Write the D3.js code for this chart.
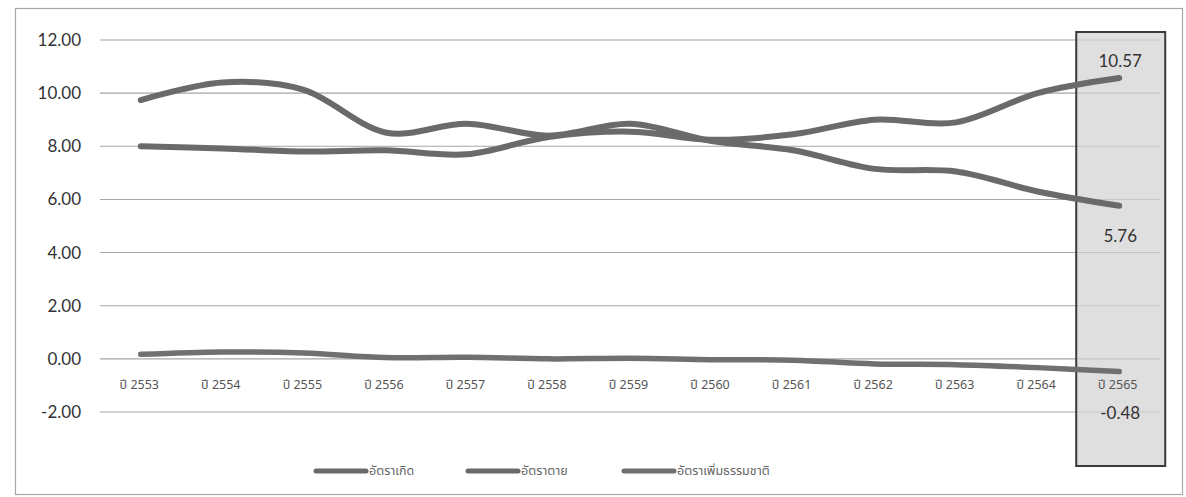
<!DOCTYPE html>
<html>
<head>
<meta charset="utf-8">
<script src="https://cdn.jsdelivr.net/npm/d3@7"></script>
<style>
  html, body { margin: 0; padding: 0; background: #fff; }
  svg { display: block; }
</style>
</head>
<body>
<svg id="chart" width="1186" height="497"></svg>
<script>
const categories = ["ปี 2553","ปี 2554","ปี 2555","ปี 2556","ปี 2557","ปี 2558","ปี 2559","ปี 2560","ปี 2561","ปี 2562","ปี 2563","ปี 2564","ปี 2565"];
const birthRate   = [9.74, 10.40, 10.12, 8.52, 8.85, 8.40, 8.85, 8.20, 7.85, 7.15, 7.05, 6.30, 5.76];
const deathRate   = [8.00, 7.92, 7.80, 7.85, 7.70, 8.35, 8.55, 8.25, 8.45, 9.00, 8.90, 10.00, 10.57];
const naturalRate = [0.17, 0.26, 0.22, 0.05, 0.06, 0.00, 0.02, -0.03, -0.05, -0.19, -0.22, -0.33, -0.48];
const seriesNames = ["อัตราเกิด", "อัตราตาย", "อัตราเพิ่มธรรมชาติ"];
const yTicks = [12, 10, 8, 6, 4, 2, 0, -2];

const svg = d3.select("#chart");
const thaiFont = "'Noto Sans Thai', 'Tahoma', 'Noto Sans', 'DejaVu Sans', sans-serif";
const numFont = "Lato, 'Open Sans', sans-serif";
const fmt = d3.formatLocale({ decimal: ".", thousands: ",", grouping: [3], currency: ["", ""], minus: "-" }).format(".2f");

// outer border
svg.append("rect").attr("x", 15.5).attr("y", 8.5).attr("width", 1167).attr("height", 486)
  .attr("fill", "#fff").attr("stroke", "#a8a8a8").attr("stroke-width", 1.2);

const x = d3.scalePoint().domain(categories).range([100, 1160]).padding(0.5);
const y = d3.scaleLinear().domain([-2, 12]).range([412, 40]);

// gridlines
svg.append("g").selectAll("line").data(yTicks).join("line")
  .attr("x1", 100).attr("x2", 1160)
  .attr("y1", d => y(d)).attr("y2", d => y(d))
  .attr("stroke", "#a6a6a6").attr("stroke-width", 1.1);

// y labels via axis
const yAxis = d3.axisLeft(y).tickValues(yTicks).tickFormat(fmt).tickSize(0).tickPadding(0);
const gy = svg.append("g").attr("transform", "translate(81,0)").call(yAxis);
gy.select(".domain").remove();
gy.selectAll("text").attr("font-family", numFont).attr("font-size", 17).attr("fill", "#333");

// highlight box for last category
const last = categories[categories.length - 1];
svg.append("rect")
  .attr("x", x(last) - 43).attr("y", 32).attr("width", 89).attr("height", 434)
  .attr("fill", "#d2d2d2").attr("fill-opacity", 0.72)
  .attr("stroke", "#3a3a3a").attr("stroke-width", 2);

// x labels via axis
const xAxis = d3.axisBottom(x).tickSize(0).tickPadding(0);
const gx = svg.append("g").attr("transform", "translate(-2,380)").call(xAxis);
gx.select(".domain").remove();
gx.selectAll("text").attr("font-family", thaiFont).attr("font-size", 12.5).attr("fill", "#555");

// lines
const line = d3.line()
  .x((d, i) => x(categories[i]))
  .y(d => y(d))
  .curve(d3.curveCatmullRom.alpha(0));

const series = [
  { name: seriesNames[0], values: birthRate, color: "#6a6a6a", width: 6 },
  { name: seriesNames[1], values: deathRate, color: "#6a6a6a", width: 6 },
  { name: seriesNames[2], values: naturalRate, color: "#707070", width: 5.5 }
];

svg.append("g").selectAll("path").data(series).join("path")
  .attr("d", d => line(d.values))
  .attr("fill", "none")
  .attr("stroke", d => d.color)
  .attr("stroke-width", d => d.width)
  .attr("stroke-linecap", "round");

// data labels for last point
const lastIdx = categories.length - 1;
const labels = [
  { v: deathRate[lastIdx], dy: -11 },
  { v: birthRate[lastIdx], dy: 36 },
  { v: naturalRate[lastIdx], dy: 47 }
];
svg.append("g").selectAll("text").data(labels).join("text")
  .attr("x", x(last) + 1)
  .attr("y", d => y(d.v) + d.dy)
  .attr("text-anchor", "middle")
  .attr("font-family", numFont).attr("font-size", 17).attr("fill", "#333")
  .text(d => fmt(d.v));

// legend
const legendX = [314, 466, 622];
const lg = svg.append("g").selectAll("g").data(series).join("g")
  .attr("transform", (d, i) => `translate(${legendX[i]},471)`);
lg.append("line").attr("x1", 2).attr("x2", 52).attr("y1", 0).attr("y2", 0)
  .attr("stroke", d => d.color).attr("stroke-width", 5).attr("stroke-linecap", "round");
lg.append("text").attr("x", 55).attr("y", 4)
  .attr("font-family", thaiFont).attr("font-size", 12.5).attr("fill", "#666")
  .text(d => d.name);
</script>
</body>
</html>
